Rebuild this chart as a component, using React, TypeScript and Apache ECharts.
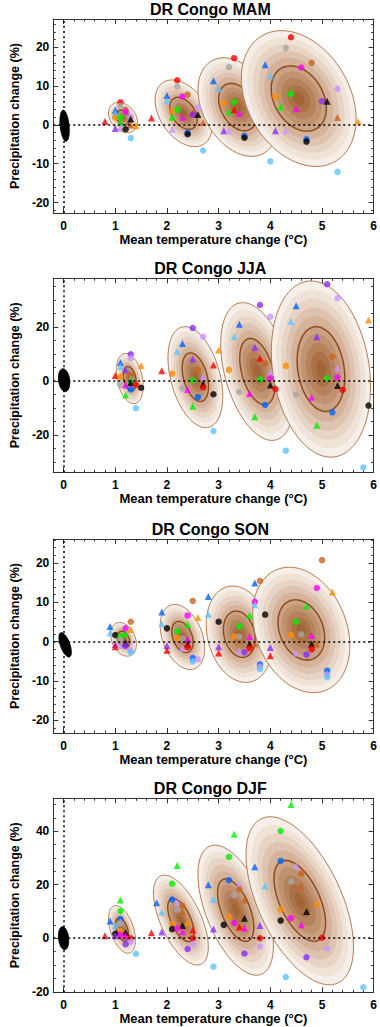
import React, { useEffect, useRef } from 'react';
import * as echarts from 'echarts';

const FONT = '"Liberation Sans", Arial, Helvetica, sans-serif';

// ---------- axes / labels ----------
const panelTitles = ['DR Congo MAM', 'DR Congo JJA', 'DR Congo SON', 'DR Congo DJF'];
const xTitle = 'Mean temperature change (°C)';
const yTitle = 'Precipitation change (%)';
const xTicks = [0, 1, 2, 3, 4, 5, 6];
const xRange = [-0.2, 6];
const mamYTicks = [-20, -10, 0, 10, 20];
const jjaYTicks = [-20, 0, 20];
const sonYTicks = [-20, -10, 0, 10, 20];
const djfYTicks = [-20, 0, 20, 40];
const mamYRange = [-22.7, 27.3];
const jjaYRange = [-33.8, 38];
const sonYRange = [-23.3, 26.2];
const djfYRange = [-20.2, 52.3];

// ---------- ellipses: [centre T, centre P, half-width T, half-height P, correlation] ----------
const mamEllipses = [
  [1.15, 1.9, 0.28, 3.9, -0.3],
  [2.32, 3.0, 0.55, 8.6, -0.4],
  [3.37, 4.6, 0.77, 12.7, -0.35],
  [4.55, 6.8, 1.11, 17.5, -0.3],
];
const jjaEllipses = [
  [1.28, 0.9, 0.26, 9.3, -0.3],
  [2.55, 1.4, 0.53, 18.7, -0.38],
  [3.75, 3.5, 0.71, 25.5, -0.4],
  [4.98, 4.4, 0.96, 32.6, -0.2],
];
const sonEllipses = [
  [1.16, 0.6, 0.25, 4.3, -0.3],
  [2.3, 1.2, 0.43, 8.3, -0.35],
  [3.4, 1.9, 0.64, 12.3, -0.2],
  [4.6, 3.0, 0.94, 16.0, -0.25],
];
const djfEllipses = [
  [1.13, 3.3, 0.26, 8.9, -0.45],
  [2.27, 6.8, 0.53, 16.8, -0.6],
  [3.33, 10.5, 0.73, 24.3, -0.55],
  [4.57, 14.0, 1.04, 31.4, -0.55],
];
// natural-variability cloud near zero
const mamNoise = [[0.02, -0.2, 0.09, 4.0, -0.3]];
const jjaNoise = [[0.01, 0.3, 0.11, 4.2, -0.2]];
const sonNoise = [[0.03, -0.8, 0.12, 3.1, -0.6]];
const djfNoise = [[0.0, 0.0, 0.1, 4.3, -0.2]];

// ---------- model points: [T, P, shape, colour] ----------
const mamPoints = [
  [0.8, 0.9, 't', 'red'], [1.1, 5.8, 'c', 'red'], [1.1, 4.9, 'c', 'grey'], [1.0, 3.8, 't', 'blue'],
  [1.0, 3.0, 't', 'lblue'], [1.2, 3.9, 'c', 'brown'], [1.0, 1.9, 'c', 'orange'], [1.1, 2.0, 'c', 'green'],
  [1.2, 3.4, 'c', 'magenta'], [1.3, 2.1, 'c', 'lav'], [1.3, 1.5, 't', 'black'], [1.1, 0.6, 't', 'green'],
  [1.3, 0.0, 't', 'brown'], [1.4, -0.2, 't', 'orange'], [1.0, -0.9, 't', 'purple'], [1.1, -0.6, 't', 'lav'],
  [1.2, -1.1, 'c', 'black'], [1.3, -3.4, 'c', 'lblue'], [1.7, 1.8, 't', 'red'],
  [2.2, 11.5, 'c', 'red'], [2.2, 9.9, 'c', 'grey'], [2.4, 7.8, 'c', 'brown'], [2.0, 7.6, 't', 'blue'],
  [2.0, 6.2, 't', 'lblue'], [2.3, 7.3, 'c', 'magenta'], [2.1, 3.6, 'c', 'orange'], [2.2, 3.9, 'c', 'green'],
  [2.1, 2.0, 't', 'green'], [2.3, 2.0, 't', 'magenta'], [2.6, 4.4, 'c', 'lav'], [2.5, 3.0, 't', 'red'],
  [2.5, 2.6, 'c', 'purple'], [2.6, 2.7, 't', 'black'], [2.7, 0.6, 't', 'brown'], [2.1, -1.1, 't', 'lav'],
  [2.4, -2.0, 'c', 'blue'], [2.4, -2.4, 'c', 'black'], [2.7, -6.6, 'c', 'lblue'],
  [3.3, 17.2, 'c', 'red'], [3.2, 14.9, 'c', 'grey'], [2.9, 11.4, 't', 'blue'], [3.0, 9.4, 't', 'lblue'],
  [3.1, 5.6, 'c', 'orange'], [3.3, 5.9, 'c', 'green'], [3.2, 3.4, 't', 'green'], [3.3, 3.9, 't', 'red'],
  [3.4, 3.0, 't', 'magenta'], [3.1, -1.5, 't', 'purple'], [3.2, -1.5, 't', 'lav'], [3.5, -2.8, 'c', 'blue'],
  [3.5, -3.3, 'c', 'black'], [4.0, -9.4, 'c', 'lblue'],
  [4.4, 22.6, 'c', 'red'], [4.3, 19.8, 'c', 'grey'], [4.8, 16.0, 'c', 'brown'], [4.6, 14.8, 'c', 'magenta'],
  [3.9, 15.5, 't', 'blue'], [4.0, 12.7, 't', 'lblue'], [5.3, 9.3, 'c', 'lav'], [4.1, 7.4, 'c', 'orange'],
  [4.4, 8.0, 'c', 'green'], [5.0, 6.1, 'c', 'purple'], [5.1, 6.1, 't', 'black'], [4.2, 4.6, 't', 'green'],
  [4.5, 4.2, 't', 'magenta'], [5.3, 1.9, 't', 'brown'], [5.7, 0.9, 't', 'orange'], [4.1, -1.5, 't', 'purple'],
  [4.3, -1.5, 't', 'lav'], [4.7, -3.7, 'c', 'blue'], [4.7, -4.3, 'c', 'black'], [5.3, -12.1, 'c', 'lblue'],
];
const jjaPoints = [
  [1.0, 2.0, 't', 'red'], [1.1, 6.8, 't', 'blue'], [1.1, 5.4, 't', 'lblue'], [1.3, 9.9, 'c', 'purple'],
  [1.3, 8.4, 'c', 'lav'], [1.2, 4.2, 't', 'purple'], [1.1, 1.5, 'c', 'orange'], [1.3, 2.2, 'c', 'brown'],
  [1.5, 5.7, 't', 'orange'], [1.1, -1.5, 'c', 'grey'], [1.3, 0.6, 't', 'lav'], [1.3, 0.3, 't', 'green'],
  [1.3, -0.6, 't', 'black'], [1.2, -1.5, 't', 'magenta'], [1.4, -1.4, 'c', 'red'], [1.3, -3.1, 'c', 'blue'],
  [1.5, -2.5, 'c', 'black'], [1.2, -5.2, 't', 'green'], [1.4, -10.1, 'c', 'lblue'], [1.9, 3.8, 't', 'red'],
  [2.5, 19.6, 'c', 'purple'], [2.7, 16.4, 'c', 'lav'], [2.3, 13.9, 't', 'blue'], [2.2, 11.0, 't', 'lblue'],
  [3.0, 11.5, 't', 'orange'], [2.5, 8.1, 't', 'purple'], [2.9, 5.9, 't', 'red'], [2.1, 2.7, 'c', 'orange'],
  [2.6, 4.1, 'c', 'brown'], [2.5, 0.2, 'c', 'green'], [2.7, 1.6, 't', 'lav'], [2.7, -1.1, 't', 'black'],
  [2.7, -2.4, 'c', 'red'], [2.3, -2.8, 'c', 'grey'], [2.4, -3.2, 't', 'magenta'], [2.6, -6.0, 'c', 'blue'],
  [2.9, -4.9, 'c', 'black'], [2.5, -9.4, 't', 'green'], [2.9, -18.5, 'c', 'lblue'],
  [3.8, 28.1, 'c', 'purple'], [4.0, 23.8, 'c', 'lav'], [3.4, 21.0, 't', 'blue'], [3.3, 16.5, 't', 'lblue'],
  [3.7, 12.5, 't', 'purple'], [3.8, 8.4, 't', 'red'], [3.9, 6.5, 'c', 'brown'], [3.2, 4.1, 'c', 'orange'],
  [4.0, 3.1, 't', 'lav'], [4.0, 1.0, 'c', 'magenta'], [3.8, 0.6, 'c', 'green'], [4.0, -1.5, 't', 'black'],
  [4.1, -3.0, 'c', 'red'], [3.4, -4.1, 'c', 'grey'], [3.6, -4.6, 't', 'magenta'], [3.9, -8.9, 'c', 'blue'],
  [3.7, -13.2, 't', 'green'], [4.3, -25.8, 'c', 'lblue'],
  [5.1, 35.8, 'c', 'purple'], [5.3, 30.6, 'c', 'lav'], [4.5, 27.8, 't', 'blue'], [4.4, 22.0, 't', 'lblue'],
  [5.9, 22.6, 't', 'orange'], [4.9, 16.4, 't', 'purple'], [5.2, 9.0, 'c', 'brown'], [4.3, 5.6, 'c', 'orange'],
  [5.3, 4.7, 't', 'lav'], [5.3, 1.3, 'c', 'magenta'], [5.1, 1.0, 'c', 'green'], [5.3, -1.7, 't', 'black'],
  [5.4, -3.3, 'c', 'red'], [4.5, -5.0, 'c', 'grey'], [4.8, -6.0, 't', 'magenta'], [5.2, -11.6, 'c', 'blue'],
  [4.9, -16.4, 't', 'green'], [5.9, -9.1, 'c', 'black'], [5.8, -32.0, 'c', 'lblue'],
];
const sonPoints = [
  [0.9, 3.9, 't', 'blue'], [0.9, 2.2, 't', 'lblue'], [1.0, 1.7, 'c', 'black'], [1.3, 5.1, 'c', 'brown'],
  [1.3, 3.1, 't', 'orange'], [1.2, 3.4, 'c', 'magenta'], [1.1, 1.4, 'c', 'green'], [1.2, 2.0, 't', 'green'],
  [1.1, 0.4, 'c', 'grey'], [1.2, -0.3, 't', 'black'], [1.0, -0.7, 't', 'purple'], [1.0, -1.3, 't', 'red'],
  [1.1, -1.0, 't', 'lav'], [1.2, -1.1, 'c', 'purple'], [1.3, -2.3, 'c', 'lav'], [1.3, -2.7, 'c', 'lblue'],
  [1.9, 7.6, 't', 'blue'], [1.9, 4.6, 't', 'lblue'], [2.0, 3.4, 'c', 'black'], [2.5, 10.4, 'c', 'brown'],
  [2.4, 6.7, 'c', 'magenta'], [2.6, 6.2, 't', 'orange'], [2.4, 4.4, 't', 'green'], [2.2, 2.6, 'c', 'green'],
  [2.2, 0.9, 'c', 'orange'], [2.3, 0.8, 'c', 'grey'], [2.4, 0.7, 't', 'magenta'], [2.4, -0.6, 't', 'black'],
  [2.4, -1.4, 'c', 'red'], [2.3, -1.7, 't', 'lav'], [2.0, -1.0, 't', 'purple'], [2.0, -2.2, 't', 'red'],
  [2.5, -4.2, 'c', 'blue'], [2.5, -5.0, 'c', 'lblue'], [2.6, -4.5, 'c', 'lav'],
  [2.8, 11.5, 't', 'blue'], [2.8, 7.0, 't', 'lblue'], [3.0, 5.1, 'c', 'black'], [3.7, 15.0, 't', 'blue'],
  [3.8, 15.5, 'c', 'brown'], [3.7, 10.2, 'c', 'magenta'], [3.7, 9.4, 't', 'lblue'], [3.6, 6.7, 't', 'green'],
  [3.4, 3.9, 'c', 'green'], [3.3, 1.3, 'c', 'orange'], [3.4, 1.3, 'c', 'grey'], [3.6, 1.3, 't', 'magenta'],
  [3.6, -0.6, 't', 'black'], [3.7, -0.5, 't', 'brown'], [3.6, -1.7, 'c', 'red'], [3.4, -2.5, 't', 'lav'],
  [3.5, -2.7, 'c', 'purple'], [3.0, -1.3, 't', 'purple'], [3.0, -2.9, 't', 'red'], [3.8, -5.8, 'c', 'blue'],
  [3.8, -6.4, 'c', 'lav'], [3.8, -7.0, 'c', 'lblue'], [3.9, 6.9, 'c', 'black'], [4.0, -1.5, 't', 'purple'],
  [4.0, -3.6, 't', 'red'],
  [5.0, 20.8, 'c', 'brown'], [4.9, 13.7, 'c', 'magenta'], [5.2, 12.7, 't', 'orange'], [4.7, 9.1, 't', 'green'],
  [4.5, 5.1, 'c', 'green'], [4.4, 1.7, 'c', 'orange'], [4.6, 1.9, 'c', 'grey'], [4.8, 1.6, 't', 'magenta'],
  [4.8, -0.6, 't', 'black'], [4.9, -0.6, 't', 'brown'], [4.8, -1.9, 'c', 'red'], [4.5, -2.9, 't', 'lav'],
  [4.7, -3.3, 'c', 'purple'], [5.1, -7.4, 'c', 'blue'], [5.1, -8.4, 'c', 'lav'], [5.1, -9.0, 'c', 'lblue'],
];
const djfPoints = [
  [0.8, 0.9, 't', 'red'], [0.9, 6.4, 't', 'blue'], [1.1, 14.3, 't', 'green'], [1.1, 10.2, 'c', 'green'],
  [1.1, 7.2, 'c', 'blue'], [1.1, 6.2, 't', 'lav'], [1.1, 5.5, 'c', 'grey'], [1.0, 4.7, 't', 'lblue'],
  [1.1, 2.7, 'c', 'orange'], [1.0, 1.7, 'c', 'black'], [1.0, 0.9, 't', 'purple'], [1.2, 2.2, 't', 'black'],
  [1.1, 1.3, 'c', 'magenta'], [1.2, 0.9, 't', 'magenta'], [1.3, 0.0, 'c', 'red'], [1.3, -1.3, 'c', 'lav'],
  [1.2, -2.2, 'c', 'purple'], [1.4, -5.8, 'c', 'lblue'], [1.7, 2.1, 't', 'red'],
  [2.2, 27.2, 't', 'green'], [2.1, 20.4, 'c', 'green'], [1.8, 13.3, 't', 'blue'], [2.1, 14.5, 'c', 'blue'],
  [2.2, 13.4, 't', 'lav'], [2.3, 12.1, 'c', 'brown'], [2.2, 10.7, 'c', 'grey'], [1.9, 9.7, 't', 'lblue'],
  [2.3, 9.8, 't', 'brown'], [2.1, 5.3, 'c', 'orange'], [2.4, 6.0, 't', 'orange'], [2.3, 4.8, 't', 'black'],
  [2.1, 3.4, 'c', 'black'], [2.2, 3.7, 'c', 'magenta'], [2.3, 2.4, 't', 'magenta'], [1.9, 2.3, 't', 'purple'],
  [2.5, 3.1, 't', 'red'], [2.5, 0.0, 'c', 'red'], [2.5, -2.2, 'c', 'lav'], [2.4, -4.0, 'c', 'purple'],
  [2.9, -10.6, 'c', 'lblue'],
  [3.3, 38.9, 't', 'green'], [3.2, 30.4, 'c', 'green'], [3.2, 21.7, 'c', 'blue'], [2.8, 20.0, 't', 'blue'],
  [3.4, 20.1, 't', 'lav'], [3.4, 18.2, 'c', 'brown'], [3.3, 16.1, 'c', 'grey'], [2.9, 14.5, 't', 'lblue'],
  [3.5, 14.3, 't', 'brown'], [3.2, 8.0, 'c', 'orange'], [3.5, 7.5, 't', 'black'], [3.1, 5.0, 'c', 'black'],
  [3.3, 5.7, 'c', 'magenta'], [3.4, 4.2, 't', 'red'], [3.5, 3.7, 't', 'magenta'], [2.9, 3.5, 't', 'purple'],
  [3.8, 0.0, 'c', 'red'], [3.8, -3.1, 'c', 'lav'], [3.5, -5.7, 'c', 'purple'], [3.7, 26.7, 't', 'blue'],
  [3.9, 19.6, 't', 'lblue'], [3.8, 4.8, 't', 'purple'], [4.3, -14.5, 'c', 'lblue'],
  [4.4, 50.0, 't', 'green'], [4.2, 40.1, 'c', 'green'], [4.2, 28.9, 'c', 'blue'], [4.5, 27.0, 't', 'lav'],
  [4.6, 24.1, 'c', 'brown'], [4.4, 21.2, 'c', 'grey'], [4.6, 19.5, 't', 'brown'], [4.9, 13.0, 't', 'orange'],
  [4.7, 10.0, 't', 'black'], [4.2, 10.7, 'c', 'orange'], [4.2, 6.6, 'c', 'black'], [4.4, 7.5, 'c', 'magenta'],
  [4.6, 5.0, 't', 'magenta'], [5.0, 0.2, 'c', 'red'], [5.1, -3.9, 'c', 'lav'], [4.7, -7.1, 'c', 'purple'],
  [5.8, -18.3, 'c', 'lblue'],
];

// ---------- styling ----------
const palette: Record<string, string> = {
  red: '#ff0000', grey: '#a6a6a6', orange: '#ff8c00', green: '#00f000', magenta: '#ff00ff',
  blue: '#0064ff', lblue: '#5cc4ff', purple: '#8a2cff', lav: '#c896ff', brown: '#c8641e', black: '#000000',
};
const bandColors = ['#f6efe9', '#efe2d7', '#e7d4c4', '#dec4b0', '#d4b39a', '#caa284', '#c0926f', '#b6825b', '#ab7247', '#a16536'];
const INNER = 0.48;

const panels = [
  { pts: mamPoints, ells: mamEllipses, noise: mamNoise, yTicks: mamYTicks, yRange: mamYRange, minor: 2 },
  { pts: jjaPoints, ells: jjaEllipses, noise: jjaNoise, yTicks: jjaYTicks, yRange: jjaYRange, minor: 5 },
  { pts: sonPoints, ells: sonEllipses, noise: sonNoise, yTicks: sonYTicks, yRange: sonYRange, minor: 2 },
  { pts: djfPoints, ells: djfEllipses, noise: djfNoise, yTicks: djfYTicks, yRange: djfYRange, minor: 5 },
];
const gridTops = [19, 278.3, 539, 798.3];
const GRID_L = 43.3, GRID_W = 334, GRID_H = 194;

function ringPoints(api: any, cx: number, cy: number, hx: number, hy: number, rho: number, k: number) {
  const s = Math.sqrt(1 - rho * rho);
  const out: number[][] = [];
  const n = 96;
  for (let j = 0; j < n; j++) {
    const t = (j / n) * Math.PI * 2;
    out.push(api.coord([cx + k * hx * Math.cos(t), cy + k * hy * (rho * Math.cos(t) + s * Math.sin(t))]));
  }
  return out;
}

function ellipseRender(params: any, api: any) {
  const cx = api.value(0), cy = api.value(1), hx = api.value(2), hy = api.value(3), rho = api.value(4);
  const children: any[] = [];
  bandColors.forEach((c, b) => {
    const k = 1 - b / bandColors.length;
    children.push({ type: 'polygon', shape: { points: ringPoints(api, cx, cy, hx, hy, rho, k) }, style: { fill: c } });
  });
  children.push({ type: 'polygon', shape: { points: ringPoints(api, cx, cy, hx, hy, rho, 1) }, style: { fill: 'none', stroke: '#b77a4e', lineWidth: 1 } });
  children.push({ type: 'polygon', shape: { points: ringPoints(api, cx, cy, hx, hy, rho, INNER) }, style: { fill: 'none', stroke: '#8c4a1c', lineWidth: 1.4 } });
  return { type: 'group', children };
}

function noiseRender(params: any, api: any) {
  const cx = api.value(0), cy = api.value(1), hx = api.value(2), hy = api.value(3), rho = api.value(4);
  return {
    type: 'polygon',
    shape: { points: ringPoints(api, cx, cy, hx, hy, rho, 1) },
    style: { fill: '#000', stroke: '#000', lineWidth: 1 },
  };
}

function buildOption() {
  const xAxis: any[] = [];
  const yAxis: any[] = [];
  const grid: any[] = [];
  const series: any[] = [];
  const graphic: any[] = [];
  const lineStyle = { color: '#333', width: 1 };
  const labelStyle = { fontFamily: FONT, fontWeight: 'bold', fontSize: 12, color: '#000' };
  const xMinor: number[] = [];
  for (let j = -1; j <= 30; j++) if (j % 5 !== 0) xMinor.push(j / 5);

  panels.forEach((p, i) => {
    grid.push({ left: GRID_L, top: gridTops[i], width: GRID_W, height: GRID_H, containLabel: false });
    const major = p.yTicks[1] - p.yTicks[0];
    const yMinor: number[] = [];
    for (let v = Math.ceil(p.yRange[0] / p.minor) * p.minor; v <= p.yRange[1]; v += p.minor) {
      if (Math.abs(v % major) > 1e-6) yMinor.push(v);
    }
    const xb = { type: 'value', gridIndex: i, min: xRange[0], max: xRange[1], splitLine: { show: false } };
    const yb = { type: 'value', gridIndex: i, min: p.yRange[0], max: p.yRange[1], splitLine: { show: false } };
    xAxis.push(
      {
        ...xb, position: 'bottom',
        axisLine: { show: true, onZero: false, lineStyle },
        axisTick: { show: true, inside: true, length: 5, customValues: xTicks, lineStyle },
        axisLabel: { show: true, customValues: xTicks, margin: 7, ...labelStyle },
        name: xTitle, nameLocation: 'middle', nameGap: 20,
        nameTextStyle: { fontFamily: FONT, fontWeight: 'bold', fontSize: 13, color: '#000' },
      },
      {
        ...xb, position: 'top',
        axisLine: { show: true, onZero: false, lineStyle },
        axisTick: { show: true, inside: true, length: 5, customValues: xTicks, lineStyle },
        axisLabel: { show: false },
      },
      {
        ...xb, position: 'bottom',
        axisLine: { show: false, onZero: false },
        axisTick: { show: true, inside: true, length: 2.5, customValues: xMinor, lineStyle },
        axisLabel: { show: false },
      },
      {
        ...xb, position: 'top',
        axisLine: { show: false, onZero: false },
        axisTick: { show: true, inside: true, length: 2.5, customValues: xMinor, lineStyle },
        axisLabel: { show: false },
      },
    );
    yAxis.push(
      {
        ...yb, position: 'left',
        axisLine: { show: true, onZero: false, lineStyle },
        axisTick: { show: true, inside: true, length: 5, customValues: p.yTicks, lineStyle },
        axisLabel: { show: true, customValues: p.yTicks, margin: 4, ...labelStyle },
        name: yTitle, nameLocation: 'middle', nameGap: 28,
        nameTextStyle: { fontFamily: FONT, fontWeight: 'bold', fontSize: 12.5, color: '#000' },
      },
      {
        ...yb, position: 'right',
        axisLine: { show: true, onZero: false, lineStyle },
        axisTick: { show: true, inside: true, length: 5, customValues: p.yTicks, lineStyle },
        axisLabel: { show: false },
      },
      {
        ...yb, position: 'left',
        axisLine: { show: false, onZero: false },
        axisTick: { show: true, inside: true, length: 2.5, customValues: yMinor, lineStyle },
        axisLabel: { show: false },
      },
      {
        ...yb, position: 'right',
        axisLine: { show: false, onZero: false },
        axisTick: { show: true, inside: true, length: 2.5, customValues: yMinor, lineStyle },
        axisLabel: { show: false },
      },
    );
    const ax = { xAxisIndex: 4 * i, yAxisIndex: 4 * i };
    series.push({
      type: 'scatter', ...ax, data: [], z: 1, silent: true,
      markLine: {
        silent: true, symbol: 'none', label: { show: false }, animation: false,
        lineStyle: { type: [2, 3], color: '#000', width: 1.5 },
        data: [{ xAxis: 0 }, { yAxis: 0 }],
      },
    });
    series.push({ type: 'custom', ...ax, z: 2, silent: true, renderItem: ellipseRender, data: p.ells, encode: { x: 0, y: 1 } });
    series.push({ type: 'custom', ...ax, z: 2, silent: true, renderItem: noiseRender, data: p.noise, encode: { x: 0, y: 1 } });
    series.push({
      type: 'scatter', ...ax, z: 3, silent: true,
      data: p.pts.map((d: any) => ({
        value: [d[0], d[1]],
        symbol: d[2] === 't' ? 'triangle' : 'circle',
        symbolSize: d[2] === 't' ? 7 : 6.5,
        itemStyle: { color: palette[d[3]] },
      })),
    });
    graphic.push({
      type: 'text', x: GRID_L + GRID_W / 2, y: gridTops[i] - 10,
      style: {
        text: panelTitles[i], font: `bold 16px ${FONT}`, fill: '#000',
        textAlign: 'center', textVerticalAlign: 'middle', align: 'center', verticalAlign: 'middle',
      },
    });
  });

  return { animation: false, backgroundColor: '#fff', grid, xAxis, yAxis, series, graphic };
}

export default function App() {
  const ref = useRef<HTMLDivElement>(null);
  useEffect(() => {
    if (!ref.current) return;
    const chart = echarts.init(ref.current, null, { renderer: 'svg' });
    chart.setOption(buildOption() as any);
    return () => chart.dispose();
  }, []);
  return <div ref={ref} style={{ position: 'fixed', left: 0, top: 0, width: 380, height: 1027, background: '#fff' }} />;
}
